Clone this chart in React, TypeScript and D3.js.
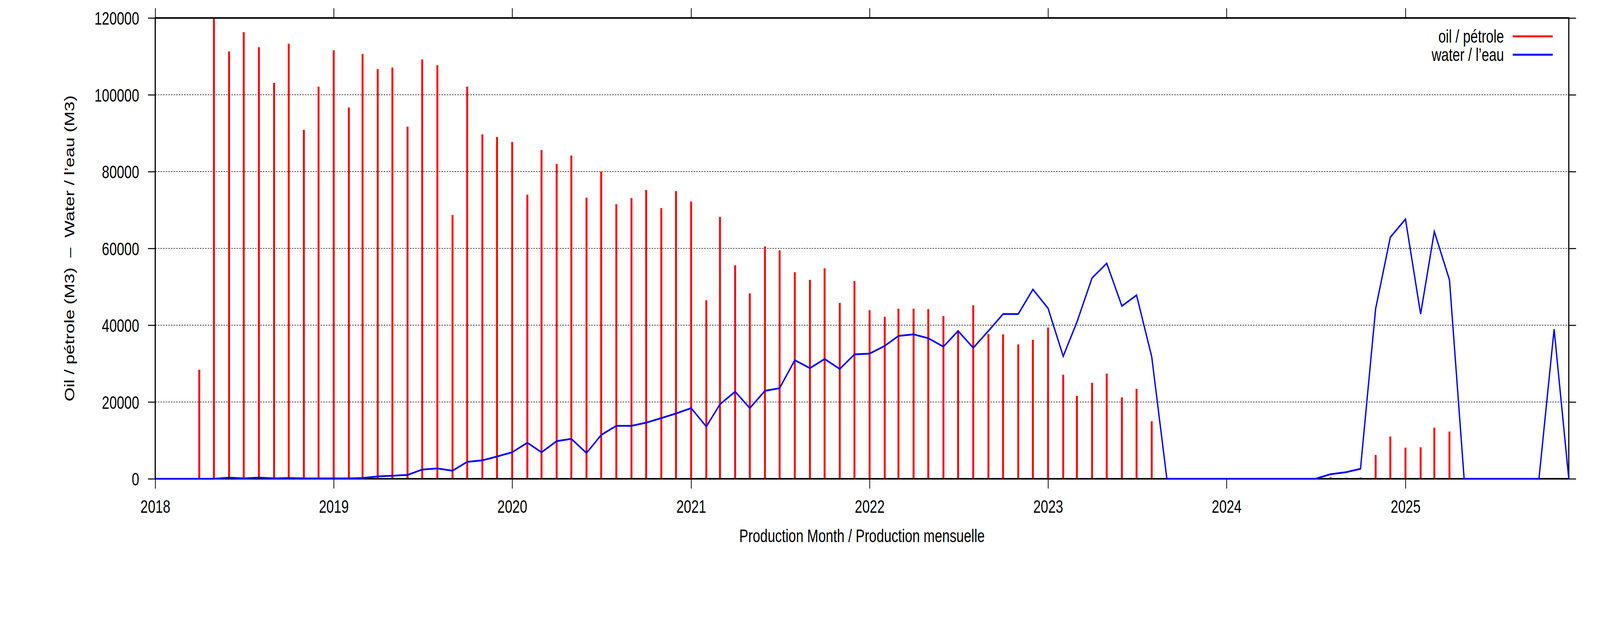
import { useRef, useEffect } from "react";
import * as d3 from "d3";

// monthly volumes, Jan 2018 .. Dec 2025
const startYear = 2018;
const monthCount = 96;

const oilM3 = [
  0, 0, 0, 28400, 119900, 111300, 116300, 112400, 103100, 113300, 90900, 102100,
  111600, 96700, 110600, 106700, 107100, 91700, 109200, 107700, 68700, 102100, 89700, 89000,
  87700, 74000, 85600, 82000, 84200, 73200, 80000, 71500, 73100, 75200, 70500, 74900,
  72200, 46500, 68200, 55600, 48300, 60500, 59500, 53800, 51800, 54800, 45800, 51500,
  43900, 42200, 44300, 44300, 44200, 42400, 38200, 45200, 37700, 37600, 35000, 36200,
  39400, 27100, 21600, 25000, 27400, 21200, 23400, 15000, 0, 0, 0, 0,
  0, 0, 0, 0, 0, 0, 0, 400, 300, 350, 6200, 11000,
  8100, 8200, 13300, 12300, 0, 0, 0, 0, 0, 0, 0, 0,
];

const waterM3 = [
  0, 0, 0, 0, 0, 300, 100, 300, 100, 200, 100, 100,
  100, 100, 200, 600, 800, 1000, 2400, 2700, 2100, 4400, 4800, 5800,
  6900, 9400, 6900, 9800, 10400, 6700, 11400, 13800, 13800, 14600, 15800, 17000,
  18400, 13600, 19400, 22700, 18400, 22900, 23600, 30900, 28800, 31200, 28600, 32400,
  32600, 34600, 37200, 37600, 36600, 34400, 38500, 34100, 38500, 42900, 42900, 49300,
  44400, 31900, 40800, 52300, 56100, 45000, 47800, 31800, 0, 0, 0, 0,
  0, 0, 0, 0, 0, 0, 0, 1200, 1700, 2600, 44300, 62900,
  67600, 42900, 64400, 51800, 0, 0, 0, 0, 0, 0, 38960, 0,
];

const yTicks = [0, 20000, 40000, 60000, 80000, 100000, 120000];
const seriesNames = ["oil / pétrole", "water / l’eau"];
const seriesColors = ["#ff0000", "#0000ff"];

const W = 5483;
const H = 1594;
const FONT = "'Liberation Sans', Arial, Helvetica, sans-serif";

export default function App() {
  const svgRef = useRef<SVGSVGElement | null>(null);

  useEffect(() => {
    const svg = d3.select(svgRef.current);
    svg.selectAll("*").remove();

    const margin = { top: 46, right: 107, bottom: 369, left: 532 };
    const innerW = W - margin.left - margin.right;
    const innerH = H - margin.top - margin.bottom;

    const months = d3.range(monthCount).map((i) => new Date(Date.UTC(startYear, i, 1)));
    const oil = months.map((d, i) => ({ d, v: oilM3[i] }));
    const water = months.map((d, i) => ({ d, v: waterM3[i] }));

    const x = d3
      .scaleUtc()
      .domain([months[0], months[months.length - 1]])
      .range([0, innerW]);
    const y = d3.scaleLinear().domain([0, 120000]).range([innerH, 0]);

    svg.append("rect").attr("width", W).attr("height", H).attr("fill", "#fff");

    const g = svg
      .append("g")
      .attr("transform", `translate(${margin.left},${margin.top})`)
      .style("font-family", FONT);

    // grid
    g.append("g")
      .selectAll("line")
      .data(yTicks.slice(1, -1))
      .join("line")
      .attr("x1", 0)
      .attr("x2", innerW)
      .attr("y1", (d) => y(d))
      .attr("y2", (d) => y(d))
      .attr("stroke", "#000")
      .attr("stroke-width", 1.4)
      .attr("stroke-dasharray", "5,4");

    // oil impulses
    g.append("g")
      .selectAll("line")
      .data(oil.filter((p) => p.v > 0))
      .join("line")
      .attr("x1", (p) => x(p.d))
      .attr("x2", (p) => x(p.d))
      .attr("y1", y(0))
      .attr("y2", (p) => y(p.v))
      .attr("stroke", seriesColors[0])
      .attr("stroke-width", 6.5);

    // border
    g.append("rect")
      .attr("width", innerW)
      .attr("height", innerH)
      .attr("fill", "none")
      .attr("stroke", "#000")
      .attr("stroke-width", 4);

    const line = d3
      .line<{ d: Date; v: number }>()
      .x((p) => x(p.d))
      .y((p) => y(p.v));

    g.append("path")
      .datum(water)
      .attr("fill", "none")
      .attr("stroke", seriesColors[1])
      .attr("stroke-width", 4.5)
      .attr("stroke-linejoin", "miter")
      .attr("d", line);

    const styleAxis = (sel: any) => {
      sel.select(".domain").remove();
      sel.selectAll(".tick line").attr("stroke", "#000").attr("stroke-width", 2.6);
      sel.selectAll("text").style("font-size", "46px").style("font-family", FONT).attr("fill", "#000");
    };

    g.append("g")
      .call(
        d3
          .axisLeft(y)
          .tickValues(yTicks)
          .tickFormat(d3.format("d"))
          .tickSize(25)
          .tickPadding(30)
      )
      .call(styleAxis)
      .call((a) => a.selectAll("text").attr("dy", "0.36em"));

    g.append("g")
      .attr("transform", `translate(${innerW},0)`)
      .call(d3.axisRight(y).tickValues(yTicks).tickFormat(() => "").tickSize(25))
      .call(styleAxis);

    g.append("g")
      .attr("transform", `translate(0,${innerH})`)
      .call(
        d3
          .axisBottom(x)
          .ticks(d3.utcYear.every(1))
          .tickFormat(d3.utcFormat("%Y") as any)
          .tickSize(25)
          .tickPadding(29)
      )
      .call(styleAxis);

    g.append("g")
      .call(d3.axisTop(x).ticks(d3.utcYear.every(1)).tickFormat(() => "").tickSize(25))
      .call(styleAxis);

    // legend
    const legend = g.append("g").attr("transform", `translate(${innerW},0)`);
    seriesNames.forEach((name, i) => {
      const ly = 47 + i * 47;
      legend
        .append("text")
        .attr("x", -222)
        .attr("y", ly)
        .attr("text-anchor", "end")
        .attr("dominant-baseline", "central")
        .style("font-size", "46px")
        .text(name);
      legend
        .append("line")
        .attr("x1", -192)
        .attr("x2", -55)
        .attr("y1", ly)
        .attr("y2", ly)
        .attr("stroke", seriesColors[i])
        .attr("stroke-width", 5);
    });

    // axis titles
    svg
      .append("text")
      .attr("x", margin.left + innerW / 2)
      .attr("y", 1387)
      .attr("text-anchor", "middle")
      .style("font-family", FONT)
      .style("font-size", "46px")
      .text("Production Month / Production mensuelle");

    svg
      .append("text")
      .attr("transform", `translate(254,${margin.top + innerH / 2}) rotate(-90)`)
      .attr("text-anchor", "middle")
      .style("font-family", FONT)
      .style("font-size", "46px")
      .style("white-space", "pre")
      .text("Oil / pétrole (M3)  –  Water / l’eau (M3)");
  }, []);

  // the svg is scaled to whatever the viewport turns out to be
  return (
    <div style={{ position: "fixed", inset: 0, overflow: "hidden", background: "#fff" }}>
      <svg
        ref={svgRef}
        viewBox={`0 0 ${W} ${H}`}
        preserveAspectRatio="none"
        style={{ display: "block", width: "100vw", height: "100vh" }}
      />
    </div>
  );
}
